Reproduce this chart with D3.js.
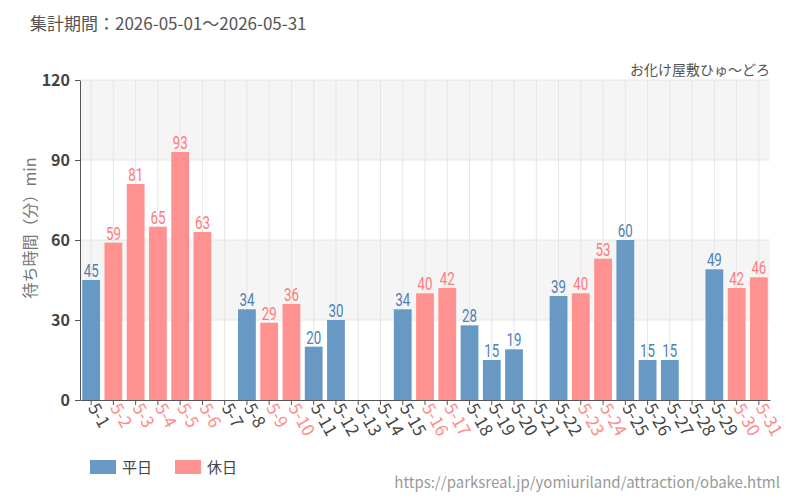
<!DOCTYPE html>
<html lang="ja">
<head>
<meta charset="UTF-8">
<title>待ち時間</title>
<script src="https://cdn.jsdelivr.net/npm/d3@7"></script>
<style>
  body { margin: 0; background: #fff; }
  svg text { font-family: "Noto Sans CJK JP", "Noto Sans", sans-serif; }
  .axis path, .axis line { stroke: #555; }
  svg text.barlabel { font-family: Roboto, "Liberation Sans", sans-serif; }
</style>
</head>
<body>
<div id="chart"></div>
<script>
// 日付ラベル
var days = ["5-1","5-2","5-3","5-4","5-5","5-6","5-7","5-8","5-9","5-10",
  "5-11","5-12","5-13","5-14","5-15","5-16","5-17","5-18","5-19","5-20",
  "5-21","5-22","5-23","5-24","5-25","5-26","5-27","5-28","5-29","5-30","5-31"];
// 待ち時間 (null = データなし)
var waits = [45,59,81,65,93,63,null,34,29,36,
  20,30,null,null,34,40,42,28,15,19,
  null,39,40,53,60,15,15,null,49,42,46];
// 休日フラグ
var holiday = [0,1,1,1,1,1,0,0,1,1,
  0,0,0,0,0,1,1,0,0,0,
  0,0,1,1,0,0,0,0,0,1,1];
var yTicks = [0, 30, 60, 90, 120];

var width = 800, height = 500;
var margin = {left: 80, right: 30, top: 80, bottom: 100};
var blue = "#6899c4", pink = "#ff9191";

var svg = d3.select("#chart").append("svg")
  .attr("width", width).attr("height", height);

var x = d3.scaleBand().domain(days)
  .range([margin.left, width - margin.right])
  .paddingInner(0.2).paddingOuter(0.1);
var y = d3.scaleLinear().domain([0, 120])
  .range([height - margin.bottom, margin.top]);

// 背景の帯
svg.append("g").selectAll("rect")
  .data([[90, 120], [30, 60]])
  .enter().append("rect")
  .attr("x", margin.left)
  .attr("width", width - margin.right - margin.left)
  .attr("y", function (d) { return y(d[1]); })
  .attr("height", function (d) { return y(d[0]) - y(d[1]); })
  .attr("fill", "#f5f5f5");

// グリッド
svg.append("g").selectAll("line")
  .data(days).enter().append("line")
  .attr("x1", function (d) { return x(d) + x.bandwidth() / 2; })
  .attr("x2", function (d) { return x(d) + x.bandwidth() / 2; })
  .attr("y1", y(0)).attr("y2", y(120))
  .attr("stroke", "#e6e6e6");
svg.append("g").selectAll("line")
  .data(yTicks.slice(1)).enter().append("line")
  .attr("x1", margin.left).attr("x2", width - margin.right)
  .attr("y1", function (d) { return y(d); })
  .attr("y2", function (d) { return y(d); })
  .attr("stroke", "#e6e6e6");

// 棒
var idx = d3.range(days.length).filter(function (i) { return waits[i] != null; });
svg.append("g").selectAll("rect")
  .data(idx).enter().append("rect")
  .attr("x", function (i) { return x(days[i]); })
  .attr("width", x.bandwidth())
  .attr("y", function (i) { return y(waits[i]); })
  .attr("height", function (i) { return y(0) - y(waits[i]); })
  .attr("fill", function (i) { return holiday[i] ? pink : blue; });

// 値ラベル（縦長の字形に見せるため横方向を縮める）
svg.append("g").selectAll("text")
  .data(idx).enter().append("text")
  .attr("class", "barlabel")
  .attr("transform", function (i) {
    return "translate(" + (x(days[i]) + x.bandwidth() / 2) + "," + (y(waits[i]) - 3) + ") scale(0.7,1)";
  })
  .attr("text-anchor", "middle")
  .attr("font-size", 19)
  .attr("fill", function (i) { return holiday[i] ? "#ff7b7b" : "#4f81b3"; })
  .text(function (i) { return waits[i]; });

// 軸
var yAxis = svg.append("g").attr("class", "axis")
  .attr("transform", "translate(" + margin.left + ",0)")
  .call(d3.axisLeft(y).tickValues(yTicks).tickSize(5).tickSizeOuter(0));
yAxis.selectAll("text").attr("font-size", 16).attr("font-weight", "bold")
  .attr("fill", "#444").attr("dx", -2);

var xAxis = svg.append("g").attr("class", "axis")
  .attr("transform", "translate(0," + y(0) + ")")
  .call(d3.axisBottom(x).tickSize(5).tickSizeOuter(0));
xAxis.selectAll("text")
  .attr("font-size", 17)
  .attr("text-anchor", "start")
  .attr("transform", "rotate(60)")
  .attr("x", 5).attr("y", 1).attr("dy", "0.35em")
  .attr("fill", function (d, i) { return holiday[i] ? "#ff8a8a" : "#444"; });

// タイトル類
svg.append("text").attr("x", 30).attr("y", 30)
  .attr("font-size", 17).attr("fill", "#555")
  .text("集計期間：2026-05-01～2026-05-31");
svg.append("text").attr("x", width - margin.right).attr("y", 75)
  .attr("text-anchor", "end").attr("font-size", 14).attr("fill", "#555")
  .text("お化け屋敷ひゅ〜どろ");
svg.append("text")
  .attr("transform", "translate(36,228) rotate(-90)")
  .attr("text-anchor", "middle").attr("font-size", 16).attr("fill", "#777")
  .text("待ち時間（分）min");

// 凡例
var legend = [["平日", blue], ["休日", pink]];
var lg = svg.append("g").selectAll("g").data(legend).enter().append("g")
  .attr("transform", function (d, i) { return "translate(" + (90 + i * 85) + ",460)"; });
lg.append("rect").attr("width", 26).attr("height", 14)
  .attr("fill", function (d) { return d[1]; });
lg.append("text").attr("x", 32).attr("y", 13)
  .attr("font-size", 15).attr("fill", "#444")
  .text(function (d) { return d[0]; });

svg.append("text").attr("x", width - 20).attr("y", 488)
  .attr("text-anchor", "end").attr("font-size", 15).attr("fill", "#999")
  .text("https://parksreal.jp/yomiuriland/attraction/obake.html");
</script>
</body>
</html>
